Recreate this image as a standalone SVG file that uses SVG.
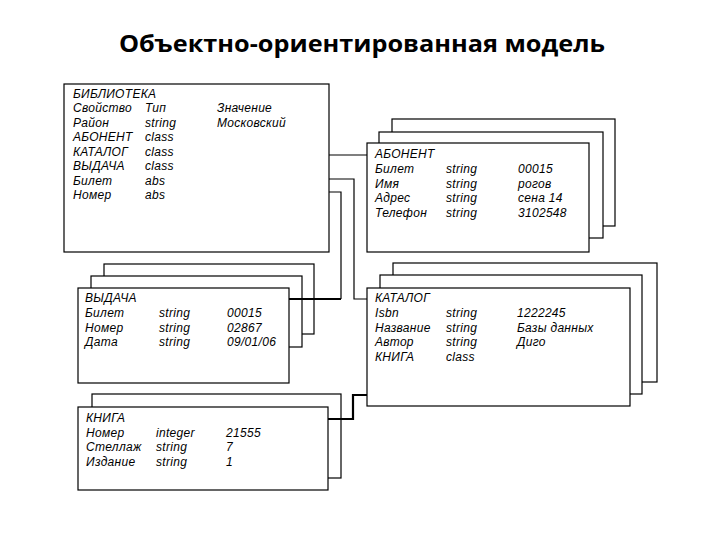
<svg xmlns="http://www.w3.org/2000/svg" width="720" height="540" viewBox="0 0 720 540">
<style>
.box{fill:#fff;stroke:#000;stroke-width:1.2}
.t{font-family:"Liberation Sans",Arial,sans-serif;font-size:12px;font-style:italic;fill:#000;letter-spacing:0.3px}
.title{font-family:"Open Sans","Liberation Sans",sans-serif;font-size:24px;font-weight:700;fill:#000}
.c{fill:none;stroke:#000;stroke-width:1.2}
.ct{fill:none;stroke:#000;stroke-width:2.2}
</style>
<rect width="720" height="540" fill="#fff"/>
<text class="title" x="362" y="52" text-anchor="middle" textLength="486" lengthAdjust="spacingAndGlyphs">Объектно-ориентированная модель</text>

<g id="biblioteka">
<rect class="box" x="64" y="84" width="265" height="168"/>
<text class="t" x="73" y="98">БИБЛИОТЕКА</text>
<text class="t" x="73" y="112">Свойство</text><text class="t" x="145" y="112">Тип</text><text class="t" x="217" y="112">Значение</text>
<text class="t" x="73" y="126.5">Район</text><text class="t" x="145" y="126.5">string</text><text class="t" x="217" y="126.5">Московский</text>
<text class="t" x="73" y="141">АБОНЕНТ</text><text class="t" x="145" y="141">class</text>
<text class="t" x="73" y="155.5">КАТАЛОГ</text><text class="t" x="145" y="155.5">class</text>
<text class="t" x="73" y="170">ВЫДАЧА</text><text class="t" x="145" y="170">class</text>
<text class="t" x="73" y="184.5">Билет</text><text class="t" x="145" y="184.5">abs</text>
<text class="t" x="73" y="199">Номер</text><text class="t" x="145" y="199">abs</text>
</g>

<g id="abonent">
<rect class="box" x="392" y="119" width="223" height="107"/>
<rect class="box" x="379" y="132" width="224" height="106"/>
<rect class="box" x="367" y="143" width="222" height="109"/>
<text class="t" x="375" y="158">АБОНЕНТ</text>
<text class="t" x="375" y="173">Билет</text><text class="t" x="446" y="173">string</text><text class="t" x="518" y="173">00015</text>
<text class="t" x="375" y="187.5">Имя</text><text class="t" x="446" y="187.5">string</text><text class="t" x="518" y="187.5">рогов</text>
<text class="t" x="375" y="202">Адрес</text><text class="t" x="446" y="202">string</text><text class="t" x="518" y="202">сена 14</text>
<text class="t" x="375" y="216.5">Телефон</text><text class="t" x="446" y="216.5">string</text><text class="t" x="518" y="216.5">3102548</text>
</g>

<g id="katalog">
<rect class="box" x="393" y="263" width="264" height="119"/>
<rect class="box" x="380" y="275" width="262" height="119"/>
<rect class="box" x="367" y="288" width="263" height="118"/>
<text class="t" x="375" y="302">КАТАЛОГ</text>
<text class="t" x="375" y="317">Isbn</text><text class="t" x="446" y="317">string</text><text class="t" x="517" y="317">1222245</text>
<text class="t" x="375" y="331.5">Название</text><text class="t" x="446" y="331.5">string</text><text class="t" x="517" y="331.5">Базы данных</text>
<text class="t" x="375" y="346">Автор</text><text class="t" x="446" y="346">string</text><text class="t" x="517" y="346">Диго</text>
<text class="t" x="375" y="360.5">КНИГА</text><text class="t" x="446" y="360.5">class</text>
</g>

<g id="vydacha">
<rect class="box" x="104" y="264" width="210" height="70"/>
<rect class="box" x="91" y="276" width="211" height="71"/>
<rect class="box" x="78" y="288" width="211" height="95"/>
<text class="t" x="85" y="302">ВЫДАЧА</text>
<text class="t" x="85" y="317">Билет</text><text class="t" x="159" y="317">string</text><text class="t" x="227" y="317">00015</text>
<text class="t" x="85" y="331.5">Номер</text><text class="t" x="159" y="331.5">string</text><text class="t" x="227" y="331.5">02867</text>
<text class="t" x="85" y="346">Дата</text><text class="t" x="159" y="346">string</text><text class="t" x="227" y="346">09/01/06</text>
</g>

<g id="kniga">
<rect class="box" x="92" y="394" width="249" height="84"/>
<rect class="box" x="78" y="407" width="250" height="83"/>
<text class="t" x="86" y="422">КНИГА</text>
<text class="t" x="86" y="436.5">Номер</text><text class="t" x="156" y="436.5">integer</text><text class="t" x="226" y="436.5">21555</text>
<text class="t" x="86" y="451">Стеллаж</text><text class="t" x="156" y="451">string</text><text class="t" x="226" y="451">7</text>
<text class="t" x="86" y="465.5">Издание</text><text class="t" x="156" y="465.5">string</text><text class="t" x="226" y="465.5">1</text>
</g>

<g id="connectors">
<polyline class="c" points="329,155 367,155"/>
<polyline class="c" points="329,179 354,179 354,299 367,299"/>
<polyline class="c" points="329,192 341,192 341,299"/>
<polyline class="ct" points="341,299 289,299"/>
<polyline class="ct" points="328,419 353,419 353,395 367,395"/>
</g>
</svg>
